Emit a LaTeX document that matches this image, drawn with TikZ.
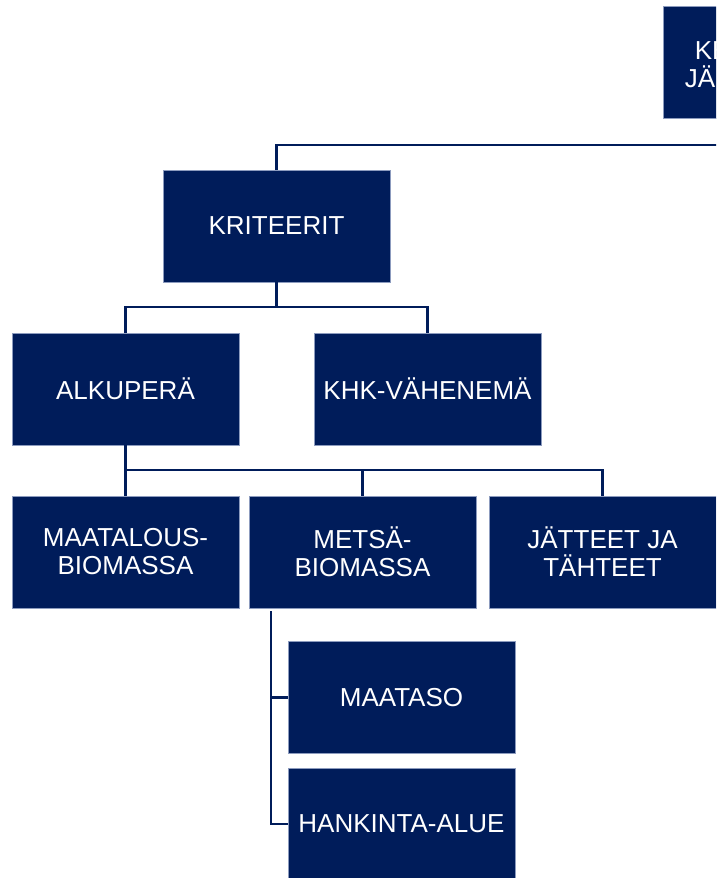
\documentclass[tikz,border=0pt]{standalone}
\usepackage{fontspec}
\setmainfont{Liberation Sans}
\definecolor{navy}{HTML}{001C5A}
\definecolor{edge}{HTML}{8C9BBE}
\begin{document}
\begin{tikzpicture}[x=1pt,y=-1pt,
  box/.style={fill=navy,draw=edge,line width=0.5pt,text=white,minimum width=227pt,minimum height=112pt,inner sep=0pt,align=center,font=\fontsize{26}{28}\selectfont},
  conn/.style={draw=navy,line width=2.4pt}]
\useasboundingbox (0,0) rectangle (716,878);
\clip (0,0) rectangle (716,878);
\node[box] (top) at (776.5,62.5) {KESTÄVYYS-\\JÄRJESTELMÄ};
\node[box] (krit) at (276.5,226) {KRITEERIT};
\node[box] (alk) at (125.5,389) {ALKUPERÄ};
\node[box] (khk) at (427.5,389) {KHK-VÄHENEMÄ};
\node[box] (maat) at (125.5,552) {MAATALOUS-\\BIOMASSA};
\node[box] (mets) at (362.5,552) {METSÄ-\\BIOMASSA};
\node[box] (jat) at (602.5,552) {JÄTTEET JA\\TÄHTEET};
\node[box] (mtaso) at (401.5,697.5) {MAATASO};
\node[box] (hank) at (401.5,824) {HANKINTA-ALUE};
\coordinate (mtop) at (271,611);
% connectors
\draw[conn] (krit.north) -- (krit.north |- 0,145) -| (top.south);
\draw[conn] (krit.south) -- (krit.south |- 0,307);
\draw[conn] (alk.north) -- (alk.north |- 0,307) -- (khk.north |- 0,307) -- (khk.north);
\draw[conn] (alk.south) -- (alk.south |- 0,470) -- (jat.north |- 0,470) -- (jat.north);
\draw[conn] (mets.north) -- (mets.north |- 0,470);
\draw[conn] (maat.north) -- (maat.north |- 0,470);
\draw[conn] (mtop) |- (mtaso.west);
\draw[conn] (mtop) |- (hank.west);
\end{tikzpicture}
\end{document}
